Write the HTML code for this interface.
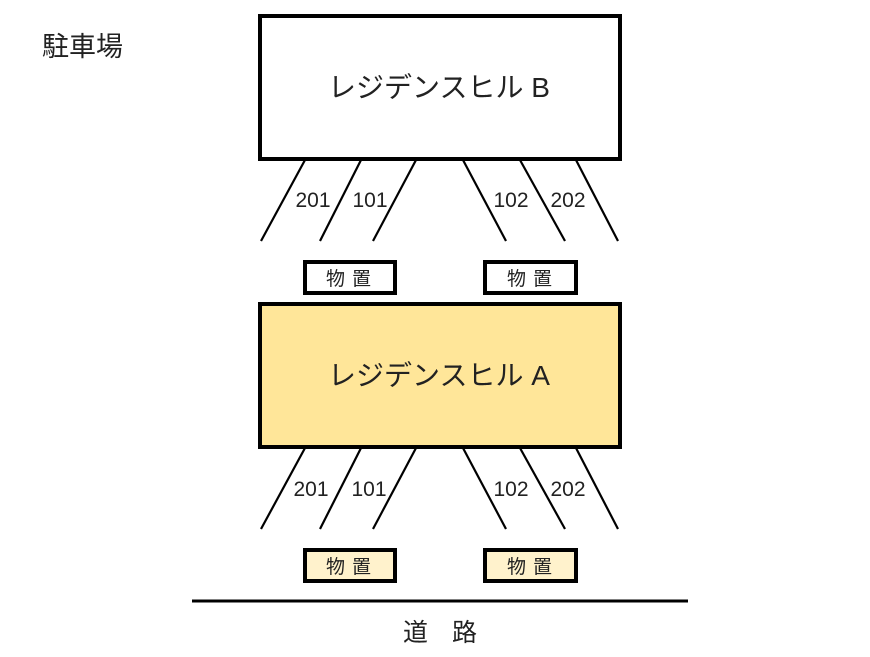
<!DOCTYPE html>
<html><head><meta charset="utf-8"><style>
body{margin:0;background:#fff;width:870px;height:652px;overflow:hidden}
svg text{font-family:"Liberation Sans","Noto Sans CJK JP",sans-serif;fill:#222}
</style></head><body>
<svg width="870" height="652" viewBox="0 0 870 652">
<text x="42" y="56" font-size="27">駐車場</text>
<rect x="260" y="16" width="360" height="143" fill="#fff" stroke="#000" stroke-width="4"/>
<text x="439" y="97" font-size="28" text-anchor="middle">レジデンスヒル B</text>
<g stroke="#000" stroke-width="2.2">
<line x1="305" y1="160" x2="261" y2="241"/><line x1="361" y1="160" x2="320" y2="241"/><line x1="416" y1="160" x2="373" y2="241"/>
<line x1="463" y1="160" x2="506" y2="241"/><line x1="520" y1="160" x2="565" y2="241"/><line x1="576" y1="160" x2="618" y2="241"/>
<line x1="305" y1="448" x2="261" y2="529"/><line x1="361" y1="448" x2="320" y2="529"/><line x1="416" y1="448" x2="373" y2="529"/>
<line x1="463" y1="448" x2="506" y2="529"/><line x1="520" y1="448" x2="565" y2="529"/><line x1="576" y1="448" x2="618" y2="529"/>
</g>
<g font-size="21" text-anchor="middle">
<text x="313" y="207">201</text><text x="370" y="207">101</text><text x="511" y="207">102</text><text x="568" y="207">202</text>
<text x="311" y="496">201</text><text x="369" y="496">101</text><text x="511" y="496">102</text><text x="568" y="496">202</text>
</g>
<rect x="305" y="262" width="90" height="31" fill="#fff" stroke="#000" stroke-width="4"/>
<rect x="485" y="262" width="91" height="31" fill="#fff" stroke="#000" stroke-width="4"/>
<text x="352" y="285" font-size="19" text-anchor="middle" letter-spacing="7">物置</text>
<text x="533" y="285" font-size="19" text-anchor="middle" letter-spacing="7">物置</text>
<rect x="260" y="304" width="360" height="143" fill="#FFE699" stroke="#000" stroke-width="4"/>
<text x="439" y="385" font-size="28" text-anchor="middle">レジデンスヒル A</text>
<rect x="305" y="550" width="90" height="31" fill="#FFF2CC" stroke="#000" stroke-width="4"/>
<rect x="485" y="550" width="91" height="31" fill="#FFF2CC" stroke="#000" stroke-width="4"/>
<text x="352" y="573" font-size="19" text-anchor="middle" letter-spacing="7">物置</text>
<text x="533" y="573" font-size="19" text-anchor="middle" letter-spacing="7">物置</text>
<line x1="192" y1="601" x2="688" y2="601" stroke="#000" stroke-width="3"/>
<text x="403" y="641" font-size="25">道</text><text x="452" y="641" font-size="25">路</text>
</svg>
</body></html>
